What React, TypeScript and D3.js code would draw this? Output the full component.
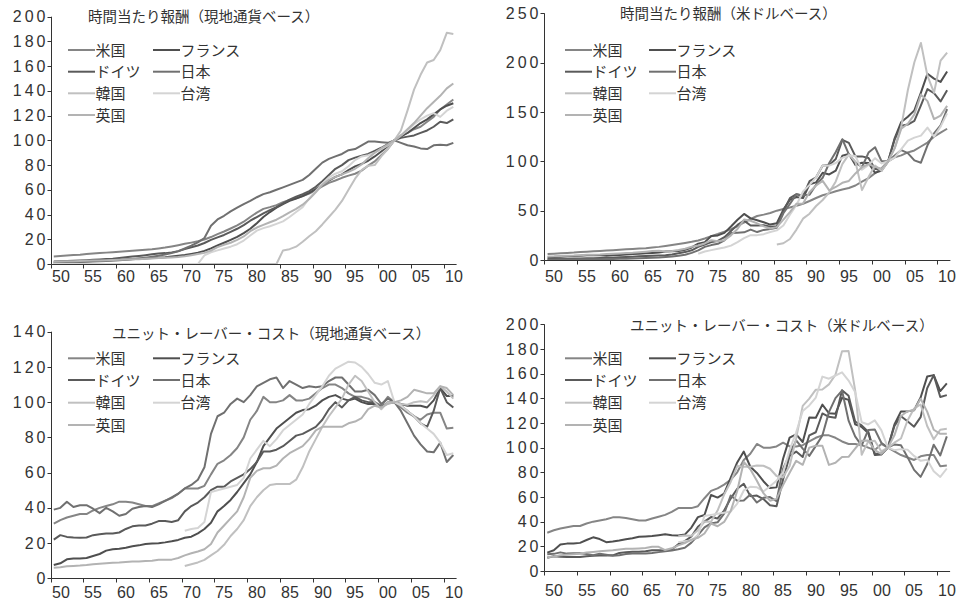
import React from 'react';
import * as d3 from 'd3';

// 1950..2011, base year 2002 = 100
const years = d3.range(1950, 2012);
const countries = ['米国', 'フランス', 'ドイツ', '日本', '韓国', '台湾', '英国'];
const xTickYears = d3.range(1950, 2011, 5);
const xTickLabels = ['50', '55', '60', '65', '70', '75', '80', '85', '90', '95', '00', '05', '10'];

const nulls = (n: number) => Array.from({ length: n }, () => null);
const zeros = (n: number) => Array.from({ length: n }, () => 0);

// 時間当たり報酬（現地通貨ベース）
const hourlyLocalUS = [6, 6.4, 6.8, 7.2, 7.5, 8, 8.4, 8.8, 9.2, 9.6, 10, 10.4, 10.8, 11.2, 11.6, 12, 12.6, 13.3, 14.2, 15.2, 16.3, 17.3, 18.4, 19.8, 21.8, 24.2, 26.3, 28.7, 31.2, 34.2, 38, 41.6, 44.6, 46, 47.6, 50, 51.7, 53.2, 55, 57, 59.8, 62.8, 65.6, 67.5, 69.7, 71.5, 73, 75.5, 79.5, 83, 88, 93, 100, 104, 106, 109, 111, 115, 119, 125, 129, 133];
const hourlyLocalFR = [1.3, 1.5, 1.7, 1.9, 2, 2.2, 2.4, 2.6, 2.9, 3.1, 3.3, 3.6, 3.9, 4.2, 4.5, 4.8, 5.1, 5.4, 6, 6.6, 7.3, 8.2, 9.2, 10.6, 12.6, 15, 17.2, 19.5, 22, 25, 28.5, 33, 38, 42, 45.5, 48.5, 51, 53, 55, 57.5, 60.5, 64, 67.5, 70.5, 72.5, 76, 79, 81, 83.5, 87, 91, 95.5, 100, 103, 106, 110, 114, 117, 121, 125, 128, 130];
const hourlyLocalDE = [2, 2.2, 2.4, 2.6, 2.8, 3.1, 3.4, 3.7, 4, 4.3, 4.8, 5.4, 6, 6.5, 7.1, 7.8, 8.4, 8.8, 9.4, 10.4, 12, 13.6, 15, 17, 19.5, 21.5, 23.5, 26, 28.5, 31.5, 35, 38, 41, 43.5, 46, 49, 52, 54.5, 56.5, 59, 62.5, 67, 72, 77, 80, 84, 86, 87.5, 89, 91.5, 94, 97, 100, 102, 103, 104, 106, 108, 111, 115, 114, 117];
const hourlyLocalJP = [1, 1.1, 1.3, 1.5, 1.7, 1.9, 2.1, 2.3, 2.5, 2.8, 3.1, 3.5, 4, 4.5, 5.1, 5.8, 6.6, 7.6, 8.8, 10.3, 12.5, 14.8, 17.5, 21, 31, 36, 39, 42.5, 45.5, 48.5, 51, 54, 56.5, 58, 60, 62, 64, 66, 68, 72, 77, 82, 85, 87, 89, 92, 93, 96, 99, 99, 98.5, 98, 100, 98, 96, 95, 93.5, 93, 96, 96.5, 96, 98];
const hourlyLocalKR = [...zeros(35), 11, 12, 14, 18, 22.5, 26.5, 32, 38, 44, 51, 60, 69, 76, 79.5, 80, 87, 93, 100, 108, 124, 141, 153, 163, 165, 173, 187, 186];
const hourlyLocalTW = [...zeros(23), 7, 9.5, 11, 12.5, 14, 16, 19, 23, 27, 29, 30.5, 32.5, 34.5, 38, 42, 46, 53, 59, 65, 70, 73, 75, 79, 84, 87, 88, 90, 93, 96, 100, 104, 108, 113, 117, 120, 122, 119, 124, 127];
const hourlyLocalUK = [1.9, 2, 2.2, 2.3, 2.4, 2.6, 2.8, 2.9, 3, 3.2, 3.4, 3.6, 3.8, 3.9, 4.2, 4.5, 4.8, 5, 5.3, 5.7, 6.3, 7.1, 8, 9, 10.8, 13.6, 15.6, 17.2, 19.5, 22.3, 26.5, 29.5, 31.7, 33.8, 35.8, 38.7, 41.8, 44.6, 48, 52.5, 58, 64, 68, 70.5, 72.5, 74.5, 77, 80.5, 85.5, 90, 93.5, 96.5, 100, 104, 109, 114, 120, 126, 131, 136, 142, 146];

// 時間当たり報酬（米ドルベース）
const hourlyUsdUS = hourlyLocalUS;
const hourlyUsdFR = [2.6, 3, 3.4, 3.8, 4, 4.4, 4.8, 5.1, 4.8, 4.4, 4.7, 5.1, 5.5, 6, 6.4, 6.8, 7.2, 7.7, 8.5, 8.8, 9.1, 10.3, 12.7, 16.5, 18.1, 24.3, 24.9, 27.5, 33.9, 40.8, 46.7, 42.2, 40.3, 38.2, 35.9, 37.3, 51, 61, 63.8, 62.7, 76.8, 78.7, 88.4, 86.7, 90.6, 105.6, 107.4, 96.4, 98.5, 98.3, 88.3, 90.7, 100, 123.6, 139.9, 145.2, 151.6, 169.7, 188.8, 183.8, 180.5, 191.1];
const hourlyUsdDE = [1, 1.1, 1.2, 1.3, 1.4, 1.5, 1.7, 1.8, 2, 2.1, 2.4, 2.8, 3.1, 3.4, 3.7, 4.1, 4.4, 4.6, 4.9, 5.5, 6.8, 8, 9.8, 13.3, 15.6, 18.1, 19.3, 23.1, 29.4, 35.6, 39.9, 35, 34.9, 35.2, 33.6, 34.3, 49.4, 62.7, 66.7, 64.9, 80, 83.8, 95.8, 96.3, 102.4, 121.8, 118.7, 105, 105, 103.4, 92.1, 92.2, 100, 122.4, 136, 137.3, 141, 156.6, 173.2, 169, 160.7, 172];
const hourlyUsdJP = [0.35, 0.38, 0.45, 0.52, 0.59, 0.66, 0.73, 0.8, 0.87, 0.97, 1.08, 1.21, 1.39, 1.56, 1.77, 2, 2.3, 2.6, 3.05, 3.6, 4.3, 5.3, 7.2, 9.7, 13.3, 15.1, 16.4, 20, 27.3, 27.6, 28, 30.8, 28.3, 30.5, 31.5, 32.6, 47.4, 56.8, 66.6, 65.5, 66.2, 76.3, 83.3, 98.3, 109.5, 122.4, 107, 98.9, 94, 108.9, 114.3, 100, 100, 105.8, 111.4, 108.3, 101, 98.6, 116.2, 128.3, 136.3, 152.9];
const hourlyUsdKR = [...nulls(35), 15.8, 17, 21.3, 30.8, 41.9, 46.9, 54.7, 60.8, 68.6, 79.6, 97.2, 107, 99.6, 70.8, 84, 95.7, 90.2, 100, 113.4, 135.2, 172, 200.4, 220, 186.5, 169.5, 202, 210.2];
const hourlyUsdTW = [...nulls(23), 6.4, 8.6, 10, 11.4, 12.7, 14.6, 18.2, 22.1, 25.2, 25.2, 26.2, 28.3, 30, 35, 45.8, 55.7, 69.4, 76.1, 83.9, 95.9, 95.6, 98.3, 103.5, 105.8, 105.3, 91.5, 96.3, 103.2, 97.9, 100, 104, 112.3, 120.9, 124, 126, 134.2, 125, 135.2, 148.6];
const hourlyUsdUK = [3.6, 3.7, 4.1, 4.3, 4.5, 4.9, 5.2, 5.4, 5.6, 6, 6.4, 6.7, 7.1, 7.3, 7.9, 8.4, 9, 9.4, 8.5, 9.1, 10.1, 11.4, 13.4, 14.7, 16.8, 20.1, 18.9, 20.1, 25, 31.4, 41.1, 39.8, 37.1, 34.1, 31.9, 33.3, 41, 48.6, 57.1, 57.2, 69, 75.5, 80.2, 70.5, 74, 78.2, 80.1, 87.7, 94, 97.2, 94.4, 92.6, 100, 113.4, 133, 138, 147.6, 167.6, 161, 142.8, 146.3, 156.2];

// ユニット・レーバー・コスト（現地通貨ベース）
const ulcLocalUS = [31, 33, 34.5, 35.5, 36.5, 36.5, 38.5, 40, 41, 42, 43.5, 43.5, 43, 42, 41, 41, 42.5, 44, 45.5, 48, 51, 51, 51, 52.5, 59, 65, 67, 70, 74, 80, 90, 95, 103, 100, 100, 101, 104, 101, 101, 102, 105, 108, 110, 110, 108, 105, 103, 103, 102, 100, 98, 103, 100, 97, 94, 92, 90, 93, 94, 94, 85, 85.5];
const ulcLocalFR = [7.5, 8.5, 10.8, 11.2, 11.2, 11.5, 12.7, 13.8, 15.7, 16.5, 16.8, 17.4, 18.2, 18.7, 19.5, 19.7, 19.9, 20.4, 21, 21.8, 23, 23.6, 25.5, 28, 31.5, 38, 41, 44.5, 49, 54, 59, 66, 75, 80, 85, 88, 91, 94, 95.5, 96, 98, 101, 103, 104, 102, 101, 102, 100, 99, 99, 97, 99.5, 100, 99, 98, 98, 98, 97, 101, 108, 103.5, 103.5];
const ulcLocalDE = [22, 24.5, 23.5, 23.2, 23, 23.2, 24.5, 25, 25.5, 25.5, 26, 28, 29.5, 30, 30, 31, 32.5, 32.5, 32, 33, 38, 41, 43, 46, 50, 52, 52, 55, 57, 59, 62, 66, 72, 72, 73, 75, 78, 81, 82, 84, 86, 90, 96, 100, 97, 101, 103, 101, 100, 100, 97, 100, 100, 98, 95, 92, 88, 86, 95, 108, 100, 97];
const ulcLocalJP = [39, 40, 43.5, 40.5, 41.5, 41.5, 39.5, 37, 40, 38, 35.5, 36.5, 39.5, 40.5, 41, 40.5, 42, 44, 46, 48, 51, 53, 56, 63, 82, 92, 94, 99, 102, 100, 104, 109, 111, 113, 114, 108, 112, 110, 108, 109, 108.5, 109, 112, 114, 114, 110, 106, 106, 107, 104, 99, 102, 100, 95, 88, 81, 76, 72, 71.5, 77, 66, 70];
const ulcLocalKR = [...nulls(20), 7, 8, 9, 10.5, 13, 15.5, 19, 24, 28, 33, 41, 46, 50, 53, 53.5, 53.5, 53.5, 56, 63, 72, 79, 86, 92, 97, 102, 110, 115, 112, 106, 100, 96, 100, 100, 99, 98.5, 100, 100.5, 100, 104, 109, 106, 102];
const ulcLocalTW = [...nulls(20), 27, 28, 28.5, 32, 49, 50, 51, 52, 53, 57, 68, 73, 78, 75, 79, 84, 87, 90, 93, 99, 104, 109, 115, 119, 121, 123, 122.5, 120, 116, 111, 110, 112, 100, 98, 95, 92, 88, 85, 82, 77, 70, 71];
const ulcLocalUK = [6, 6.3, 6.8, 7, 7.2, 7.5, 8, 8.3, 8.6, 8.8, 9, 9.3, 9.6, 9.6, 9.8, 10, 10.5, 10.5, 10.6, 11.5, 13, 14.2, 15.2, 16.5, 19.5, 26, 30, 34, 38, 46, 57, 61, 62.5, 62.5, 64, 68, 71, 73, 75, 79, 84, 86, 86, 86, 86, 88, 89, 91, 96, 98, 97, 99, 100, 101, 103, 107, 106, 105, 105, 109, 108, 104];

// ユニット・レーバー・コスト（米ドルベース）
const ulcUsdUS = ulcLocalUS;
const ulcUsdFR = [14.9, 16.8, 21.4, 22.2, 22.2, 22.8, 25.1, 27.3, 25.9, 23.4, 23.9, 24.7, 25.8, 26.6, 27.7, 28, 28.3, 29, 29.8, 29, 28.8, 29.5, 35.2, 43.7, 45.4, 61.6, 59.5, 62.7, 75.5, 88, 96.8, 84.5, 79.5, 72.8, 67.2, 67.8, 91, 108.1, 110.8, 104.6, 124.5, 124.2, 134.9, 127.9, 127.5, 140.4, 138.7, 119, 116.8, 111.9, 94.1, 94.5, 100, 118.8, 129.4, 129.4, 130.3, 140.7, 157.6, 158.8, 145.9, 152.1];
const ulcUsdDE = [10.8, 12, 11.5, 11.4, 11.3, 11.4, 12, 12.3, 12.5, 12.5, 12.7, 14.6, 15.3, 15.6, 15.6, 16.1, 16.9, 16.9, 16.6, 17.5, 21.7, 24.2, 28, 35.9, 40, 43.7, 42.6, 49, 58.7, 66.7, 70.7, 60.7, 61.2, 58.3, 53.3, 52.5, 74.1, 93.2, 96.8, 92.4, 110, 112.5, 127.7, 125, 124.2, 146.5, 142, 121.2, 118, 113, 95, 95, 100, 117.6, 125.4, 121.4, 117, 124.7, 148.2, 158.8, 141, 142.6];
const ulcUsdJP = [13.5, 13.9, 15.1, 14.1, 14.4, 14.4, 13.7, 12.8, 13.9, 13.2, 12.3, 12.7, 13.7, 14.1, 14.2, 14.1, 14.6, 15.3, 16, 16.7, 17.7, 18.9, 23, 29, 35.3, 38.6, 39.5, 46.5, 61.2, 57, 57.2, 62.1, 55.5, 59.3, 59.9, 56.7, 82.9, 94.6, 105.8, 99.2, 93.3, 101.4, 109.8, 128.8, 140.2, 146.3, 121.9, 109.2, 101.7, 114.4, 114.8, 104, 100, 102.6, 102, 92.3, 82, 76.3, 86.5, 102.4, 93.7, 109.2];
const ulcUsdKR = [...nulls(20), 28.2, 28.8, 28.6, 33, 40.2, 40, 49, 61.9, 72.2, 85.1, 84.5, 84.6, 85.5, 85.3, 82.9, 77, 76, 85.1, 107.7, 133.9, 139.8, 147, 147.2, 151.3, 159.1, 178.2, 178.3, 146.7, 94.3, 105, 105.6, 97, 100, 104, 107.4, 122, 131.7, 135, 117.5, 106.8, 114.5, 115.3];
const ulcUsdTW = [...nulls(20), 23.4, 24.2, 24.7, 29.1, 44.6, 45.5, 46.4, 47.3, 48.2, 54.7, 65.3, 68.3, 67.9, 64.5, 68.7, 73.1, 80, 98.1, 112.5, 129.7, 134.2, 140.6, 157.6, 155.9, 158.5, 161.1, 154.4, 145.2, 120.6, 118.8, 122.1, 114.2, 100, 98, 98.8, 98.4, 93.3, 89.3, 90.2, 80.9, 76.3, 83.1];
const ulcUsdUK = [11.2, 11.8, 12.7, 13.1, 13.5, 14, 15, 15.5, 16.1, 16.5, 16.8, 17.4, 18, 18, 18.3, 18.7, 19.6, 19.6, 17, 18.4, 20.8, 22.7, 25.4, 26.9, 30.4, 38.5, 36.3, 39.8, 48.6, 64.9, 88.4, 82.4, 73.1, 63.1, 57, 58.5, 69.6, 79.6, 89.3, 86.1, 100, 101.5, 101.5, 86, 87.7, 92.4, 92.6, 99.2, 105.6, 105.8, 98, 95, 100, 110, 125.7, 129.5, 130.4, 139.7, 129.2, 114.5, 111.2, 111.3];

const colors = ['#858585', '#4f4f4f', '#5a5a5a', '#707070', '#c0c0c0', '#d4d4d4', '#b3b3b3'];

const panels = [
  {
    title: '時間当たり報酬（現地通貨ベース）',
    series: [hourlyLocalUS, hourlyLocalFR, hourlyLocalDE, hourlyLocalJP, hourlyLocalKR, hourlyLocalTW, hourlyLocalUK],
    yMax: 200, yStep: 20,
    x0: 50.5, y0: 264, yTop: 16.7,
    titleX: 88, titleY: 22,
    legendX: [68, 153], legendY: [50, 71.7, 93.3, 115],
    labelY: 282,
  },
  {
    title: '時間当たり報酬（米ドルベース）',
    series: [hourlyUsdUS, hourlyUsdFR, hourlyUsdDE, hourlyUsdJP, hourlyUsdKR, hourlyUsdTW, hourlyUsdUK],
    yMax: 250, yStep: 50,
    x0: 544.3, y0: 260, yTop: 13.3,
    titleX: 620, titleY: 19,
    legendX: [565, 649], legendY: [50, 71.7, 93.3, 115],
    labelY: 282,
  },
  {
    title: 'ユニット・レーバー・コスト（現地通貨ベース）',
    series: [ulcLocalUS, ulcLocalFR, ulcLocalDE, ulcLocalJP, ulcLocalKR, ulcLocalTW, ulcLocalUK],
    yMax: 140, yStep: 20,
    x0: 50.5, y0: 578.3, yTop: 331.7,
    titleX: 112, titleY: 339,
    legendX: [68, 153], legendY: [358.3, 380, 402.7, 425],
    labelY: 598,
  },
  {
    title: 'ユニット・レーバー・コスト（米ドルベース）',
    series: [ulcUsdUS, ulcUsdFR, ulcUsdDE, ulcUsdJP, ulcUsdKR, ulcUsdTW, ulcUsdUK],
    yMax: 200, yStep: 20,
    x0: 544, y0: 571, yTop: 324.3,
    titleX: 630, titleY: 331,
    legendX: [565, 649], legendY: [358.3, 380, 402.7, 425],
    labelY: 596,
  },
];

const step = 6.55;
const numFont = '"Liberation Sans", Arial, sans-serif';
const jpFont = '"Noto Sans CJK JP", sans-serif';

function Panel({ p }: { p: any }) {
  const x = d3.scaleLinear().domain([1949.5, 2011.5]).range([p.x0, p.x0 + 62 * step]);
  const y = d3.scaleLinear().domain([0, p.yMax]).range([p.y0, p.yTop]);
  const line = d3.line<number | null>()
    .defined(d => d != null)
    .x((d, i) => x(years[i]))
    .y(d => y(d as number));
  const yTicks = d3.range(0, p.yMax + 1, p.yStep);
  const ax = Math.round(p.x0) + 0.5;
  const ay = Math.round(p.y0) + 0.5;

  return (
    <g>
      {p.series.map((s: (number | null)[], i: number) => (
        <path key={i} d={line(s) || ''} fill="none" stroke={colors[i]} strokeWidth={2} strokeLinejoin="round" />
      ))}
      <line x1={ax} x2={ax} y1={p.yTop} y2={ay} stroke="#333" />
      <line x1={ax} x2={x(2011.5)} y1={ay} y2={ay} stroke="#333" />
      {yTicks.map(t => (
        <g key={t}>
          <line x1={ax - 4} x2={ax} y1={Math.round(y(t)) + 0.5} y2={Math.round(y(t)) + 0.5} stroke="#333" />
          <text x={ax - 3} y={y(t) + 5.6} textAnchor="end" fontFamily={numFont} fontSize={16} letterSpacing={3} fill="#333">{t}</text>
        </g>
      ))}
      {xTickYears.map((yr, i) => {
        const tx = Math.round(x(yr - 0.5)) + 0.5;
        return (
          <g key={yr}>
            <line x1={tx} x2={tx} y1={ay} y2={ay + 4} stroke="#333" />
            <text x={tx + 0.5} y={p.labelY} fontFamily={numFont} fontSize={16} fill="#333">{xTickLabels[i]}</text>
          </g>
        );
      })}
      <text x={p.titleX} y={p.titleY} fontFamily={jpFont} fontSize={14.5} fill="#333">{p.title}</text>
      {countries.map((c, i) => {
        const lx = p.legendX[i % 2];
        const ly = p.legendY[Math.floor(i / 2)];
        return (
          <g key={c}>
            <line x1={lx} x2={lx + 27} y1={ly} y2={ly} stroke={colors[i]} strokeWidth={2} />
            <text x={lx + 27.5} y={ly + 5.5} fontFamily={jpFont} fontSize={15} fill="#333">{c}</text>
          </g>
        );
      })}
    </g>
  );
}

export default function App() {
  return (
    <div style={{ position: 'absolute', left: 0, top: 0 }}>
      <svg width={960} height={600} style={{ display: 'block', background: '#fff' }}>
        {panels.map((p, i) => <Panel key={i} p={p} />)}
      </svg>
    </div>
  );
}
